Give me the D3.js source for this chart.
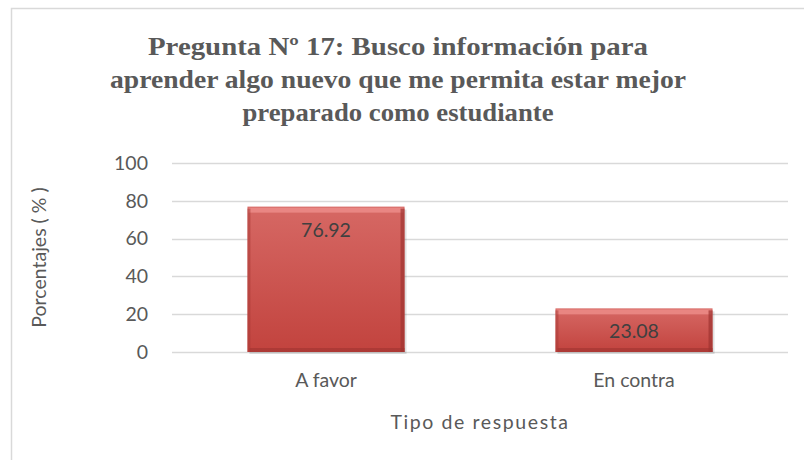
<!DOCTYPE html>
<html>
<head>
<meta charset="utf-8">
<script src="https://cdn.jsdelivr.net/npm/d3@7/dist/d3.min.js"></script>
<style>
  body { margin: 0; background: #fff; }
  svg { display: block; }
</style>
</head>
<body>
<div id="chart"></div>
<script>
var categories = ["A favor", "En contra"];
var values = [76.92, 23.08];
var yTicks = [0, 20, 40, 60, 80, 100];
var titleLines = [
    "Pregunta Nº 17: Busco información para",
    "aprender algo nuevo que me permita estar mejor",
    "preparado como estudiante"
];
var titleWidths = [500, 576, 311];

var width = 804,
    height = 460,
    grey = "#595959",
    labelFont = "19.5px Lato, 'Open Sans', sans-serif";

var margin = {top: 163, right: 16, bottom: 108, left: 172};

var svg = d3.select("#chart").append("svg")
    .attr("width", width)
    .attr("height", height);

// gradient for bars
var defs = svg.append("defs");
var grad = defs.append("linearGradient")
    .attr("id", "barGrad")
    .attr("x1", 0).attr("y1", 0).attr("x2", 0).attr("y2", 1);
grad.append("stop").attr("offset", "0%").attr("stop-color", "#d66864");
grad.append("stop").attr("offset", "100%").attr("stop-color", "#c2433e");

// chart frame, runs off the page on the right and bottom
svg.append("rect")
    .attr("x", 11.5).attr("y", 8.5)
    .attr("width", 900).attr("height", 600)
    .style("fill", "none")
    .style("stroke", "#d9d9d9")
    .style("stroke-width", 1.5);

// title
var title = svg.append("g").attr("class", "title");
titleLines.forEach(function (line, i) {
    title.append("text")
        .attr("x", 398)
        .attr("y", 55 + i * 33)
        .attr("text-anchor", "middle")
        .attr("textLength", titleWidths[i])
        .attr("lengthAdjust", "spacingAndGlyphs")
        .style("font", "bold 25px 'Liberation Serif', serif")
        .style("fill", grey)
        .text(line);
});

var x = d3.scaleBand()
    .domain(categories)
    .range([margin.left, width - margin.right])
    .paddingInner(0.49)
    .paddingOuter(0.245);

var y = d3.scaleLinear()
    .domain([0, 100])
    .range([height - margin.bottom, margin.top]);

// gridlines
svg.append("g")
    .selectAll("line")
    .data(yTicks)
    .enter().append("line")
        .attr("x1", margin.left)
        .attr("x2", width - margin.right)
        .attr("y1", function (d) { return Math.round(y(d)) + 0.5; })
        .attr("y2", function (d) { return Math.round(y(d)) + 0.5; })
        .style("stroke", "#d9d9d9")
        .style("stroke-width", 1.5);

// y axis labels
var yAxis = d3.axisLeft(y).tickValues(yTicks).tickSize(0).tickPadding(24);
var yG = svg.append("g")
    .attr("transform", "translate(" + margin.left + ",0)")
    .call(yAxis);
yG.select(".domain").remove();
yG.selectAll("text")
    .style("font", labelFont)
    .style("fill", grey);

// x axis labels
var xAxis = d3.axisBottom(x).tickSize(0).tickPadding(21);
var xG = svg.append("g")
    .attr("transform", "translate(0," + (height - margin.bottom) + ")")
    .call(xAxis);
xG.select(".domain").remove();
xG.selectAll("text")
    .style("font", labelFont)
    .style("fill", grey);

// bars
var bars = svg.append("g")
    .selectAll("g")
    .data(values)
    .enter().append("g");

bars.append("rect")
    .attr("x", function (d, i) { return x(categories[i]) + 2; })
    .attr("y", function (d) { return y(d) + 3; })
    .attr("width", x.bandwidth())
    .attr("height", function (d) { return y(0) - y(d) - 1; })
    .style("fill", "rgba(0,0,0,0.12)");

bars.append("rect")
    .attr("x", function (d, i) { return x(categories[i]); })
    .attr("y", function (d) { return y(d); })
    .attr("width", x.bandwidth())
    .attr("height", function (d) { return y(0) - y(d); })
    .style("fill", "url(#barGrad)");

// bevel: light top, dark bottom and right
bars.append("rect")
    .attr("x", function (d, i) { return x(categories[i]) + 1; })
    .attr("y", function (d) { return y(d) + 1; })
    .attr("width", x.bandwidth() - 2)
    .attr("height", 5)
    .style("fill", "#ee8f8b")
    .style("opacity", 0.8);

bars.append("rect")
    .attr("x", function (d, i) { return x(categories[i]) + x.bandwidth() - 4; })
    .attr("y", function (d) { return y(d) + 2; })
    .attr("width", 4)
    .attr("height", function (d) { return y(0) - y(d) - 2; })
    .style("fill", "#9e3330")
    .style("opacity", 0.7);

bars.append("rect")
    .attr("x", function (d, i) { return x(categories[i]) + 2; })
    .attr("y", function (d) { return y(0) - 4; })
    .attr("width", x.bandwidth() - 2)
    .attr("height", 4)
    .style("fill", "#9e3330")
    .style("opacity", 0.6);

bars.append("rect")
    .attr("x", function (d, i) { return x(categories[i]); })
    .attr("y", function (d) { return y(d) + 2; })
    .attr("width", 3)
    .attr("height", function (d) { return y(0) - y(d) - 2; })
    .style("fill", "#a83a36")
    .style("opacity", 0.5);

// value labels
bars.append("text")
    .attr("x", function (d, i) { return x(categories[i]) + x.bandwidth() / 2; })
    .attr("y", function (d) { return y(d) + 30; })
    .attr("text-anchor", "middle")
    .style("font", labelFont)
    .style("fill", "#404040")
    .text(function (d) { return d.toFixed(2); });

// axis titles
svg.append("text")
    .attr("transform", "translate(46," + (y(50)) + ") rotate(-90)")
    .attr("text-anchor", "middle")
    .style("font", labelFont)
    .style("fill", grey)
    .text("Porcentajes ( % )");

svg.append("text")
    .attr("x", 480)
    .attr("y", 429)
    .attr("text-anchor", "middle")
    .style("font", labelFont)
    .style("letter-spacing", "1.6px")
    .style("fill", grey)
    .text("Tipo de respuesta");
</script>
</body>
</html>
